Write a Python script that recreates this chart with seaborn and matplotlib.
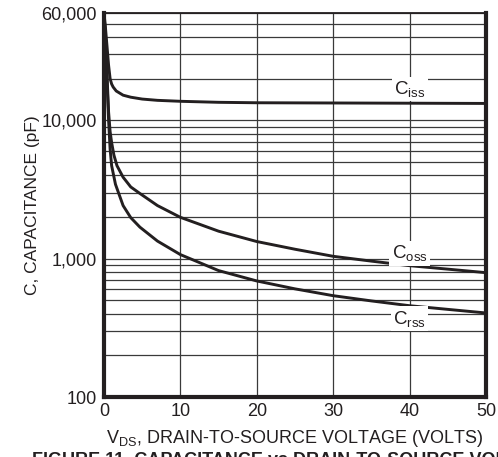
import matplotlib
matplotlib.use("Agg")
import matplotlib.pyplot as plt
from matplotlib.ticker import LogLocator, NullFormatter, FixedLocator
import seaborn as sns
import pandas as pd

# ---- data ----
v_iss = [0, 0.2, 0.4, 0.6, 0.8, 1.0, 1.2, 1.6, 2.5, 3.5, 5, 7, 10, 15, 20, 30, 40, 50]
c_iss = [60000, 46000, 34000, 25000, 20000, 18300, 17400, 16300, 15200, 14700, 14250,
         13950, 13730, 13500, 13400, 13350, 13300, 13250]

v_oss = [0, 0.2, 0.4, 0.6, 0.8, 1.0, 1.3, 1.7, 2.5, 3.5, 4.7, 7, 10, 15, 20, 25, 30, 35, 40, 45, 50]
c_oss = [60000, 40000, 21000, 11500, 8300, 6900, 5600, 4700, 3880, 3300, 2960, 2420,
         1990, 1580, 1330, 1170, 1040, 960, 890, 840, 792]

v_rss = [0, 0.2, 0.4, 0.6, 0.8, 1.0, 1.5, 2.5, 3.5, 4.7, 7, 10, 15, 20, 25, 30, 35, 40, 45, 50]
c_rss = [60000, 38000, 19000, 10000, 6200, 4700, 3450, 2420, 1980, 1690, 1340, 1070,
         820, 690, 605, 540, 495, 457, 430, 405]

x_ticks = [0, 10, 20, 30, 40, 50]
y_ticks = [100, 1000, 10000, 60000]
y_tick_labels = ["100", "1,000", "10,000", "60,000"]

series_labels = [r"$\mathregular{C_{iss}}$", r"$\mathregular{C_{oss}}$", r"$\mathregular{C_{rss}}$"]
label_pos = [(40.0, 16900), (40.0, 1093), (40.0, 369)]

x_label = r"$\mathregular{V_{DS}}$, DRAIN-TO-SOURCE VOLTAGE (VOLTS)"
y_label = "C, CAPACITANCE (pF)"
caption = "FIGURE 11. CAPACITANCE vs DRAIN-TO-SOURCE VOLTAGE"

# ---- style ----
sns.set_style("white")
plt.rcParams["font.family"] = ["Liberation Sans", "DejaVu Sans"]
plt.rcParams["mathtext.fontset"] = "custom"
plt.rcParams["mathtext.rm"] = "Liberation Sans"

ink = "#231f20"
grid_c = "#3a3a3a"

fig = plt.figure(figsize=(4.98, 4.57), dpi=100)
ax = fig.add_axes([104 / 498, 1 - 397 / 457, (486 - 104) / 498, (397 - 12.7) / 457])

for v, c in [(v_iss, c_iss), (v_oss, c_oss), (v_rss, c_rss)]:
    df = pd.DataFrame({"V": v, "C": c})
    sns.lineplot(data=df, x="V", y="C", ax=ax, color=ink, linewidth=2.1,
                 legend=False, zorder=3)

ax.set_yscale("log")
ax.set_xlim(0, 50)
ax.set_ylim(100, 60000)

ax.xaxis.set_major_locator(FixedLocator(x_ticks))
ax.set_xticklabels([str(t) for t in x_ticks])
ax.yaxis.set_major_locator(FixedLocator(y_ticks))
ax.set_yticklabels(y_tick_labels)
ax.yaxis.set_minor_locator(LogLocator(base=10, subs=[2, 3, 4, 5, 6, 7, 8, 9]))
ax.yaxis.set_minor_formatter(NullFormatter())

ax.tick_params(axis="both", which="both", length=0, labelsize=13, colors=ink)
ax.tick_params(axis="x", pad=4)
ax.tick_params(axis="y", pad=5)

ax.grid(True, which="both", axis="y", color=grid_c, linewidth=0.9, zorder=1)
ax.grid(True, which="major", axis="x", color=grid_c, linewidth=0.9, zorder=1)
ax.set_axisbelow(True)

for side in ["left", "bottom", "right"]:
    ax.spines[side].set_visible(True)
    ax.spines[side].set_linewidth(3.0)
    ax.spines[side].set_color(ink)
ax.spines["top"].set_visible(True)
ax.spines["top"].set_linewidth(1.3)
ax.spines["top"].set_color(ink)

for lab, (x, y) in zip(series_labels, label_pos):
    ax.text(x, y, lab, fontsize=13.5, color=ink, ha="center", va="center", zorder=4,
            bbox=dict(boxstyle="square,pad=0.12", facecolor="white", edgecolor="none"))

ax.set_xlabel(x_label, fontsize=13, color=ink, labelpad=6)
ax.set_ylabel(y_label, fontsize=12.5, color=ink, labelpad=1)

fig.text(32 / 498, 1 - 465 / 457, caption, fontsize=13, fontweight="bold",
         color=ink, ha="left", va="baseline")

fig.savefig("out.png", dpi=100)
